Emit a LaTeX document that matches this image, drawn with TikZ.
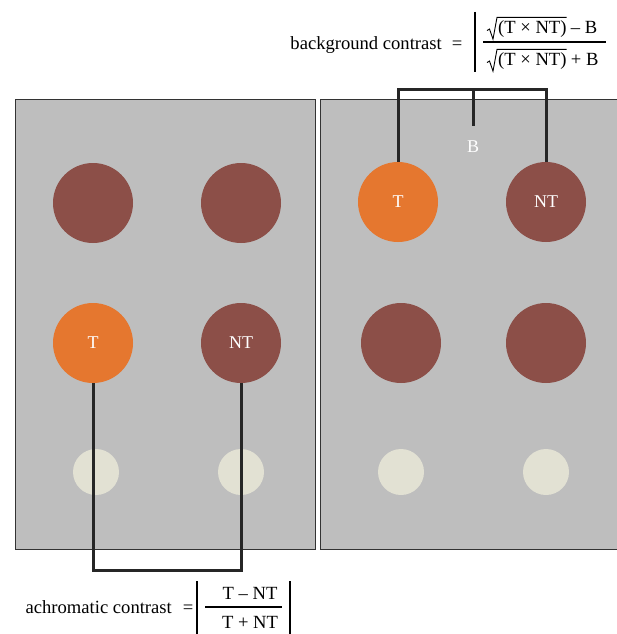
\documentclass[tikz,border=0pt]{standalone}
\usepackage{fontspec}
\setmainfont{Liberation Serif}
\usetikzlibrary{positioning, calc}
\definecolor{panelgray}{HTML}{BEBEBE}
\definecolor{dotbrown}{HTML}{8C4F48}
\definecolor{dotorange}{HTML}{E5772F}
\definecolor{dotpale}{HTML}{E2E1D3}
\tikzset{
  panel/.style = {draw=black!80, fill=panelgray, line width=1pt},
  bigdot/.style = {circle, fill=dotbrown, minimum size=80pt, inner sep=0pt, text=white, font=\fontsize{18}{20}\selectfont},
  target/.style = {bigdot, fill=dotorange},
  smalldot/.style = {circle, fill=dotpale, minimum size=46pt, inner sep=0pt},
  link/.style = {draw=black!85, line width=3pt},
  formula/.style = {inner sep=0pt, font=\fontsize{18.6}{22}\selectfont},
  rule/.style = {draw=black, line width=1.2pt},
  radical/.style = {draw=black, line width=0.9pt, line join=miter}
}
\begin{document}
\begin{tikzpicture}[x=1pt, y=-1pt]
  \useasboundingbox (0,0) rectangle (616,634);

  % Panels
  \draw[panel] (15,99) rectangle (315,549);
  \draw[panel] (320,99) rectangle (640,549);

  % Left panel
  \node (l11) [bigdot] at (93,203) {};
  \node (l12) [bigdot] at (241,203) {};
  \node (lt) [target] at (93,343) {T};
  \node (lnt) [bigdot] at (241,343) {NT};
  \node (l31) [smalldot] at (96,472) {};
  \node (l32) [smalldot] at (241,472) {};

  % Right panel
  \node (rt) [target] at (398,202) {T};
  \node (rnt) [bigdot] at (546,202) {NT};
  \node (r21) [bigdot] at (401,343) {};
  \node (r22) [bigdot] at (546,343) {};
  \node (r31) [smalldot] at (401,472) {};
  \node (r32) [smalldot] at (546,472) {};
  \node (b) [text=white, font=\fontsize{18}{20}\selectfont] at (473,147) {B};

  % Connecting lines
  \draw[link] (rt.north) -- ++(0,-72) coordinate (bl) -| (rnt.north);
  \draw[link] (bl -| b) -- ($(b.north)+(0,-12)$);
  \draw[link] (lt.south) -- ++(0,187) -| (lnt.south);

  % Background contrast formula
  \node (bglabel) [formula, anchor=base east] at (442,49) {background contrast};
  \node (bgeq) [formula, anchor=base] at (457,49) {=};
  \node (numroot) [formula, anchor=base west] at (498,34) {(T × NT)};
  \node (numb) [formula, anchor=base west] at ($(numroot.base east)+(4,0)$) {– B};
  \node (denroot) [formula, anchor=base west] at (498,66) {(T × NT)};
  \node (denb) [formula, anchor=base west] at ($(denroot.base east)+(4,0)$) {+ B};
  \foreach \r in {numroot, denroot}
    \draw[radical] ($(\r.west)+(-11,1)$) -- ++(2.5,-1.5) -- ($(\r.south west)+(-5,1)$)
      -- ($(\r.north west)+(-1,-3.5)$) -- ($(\r.north east)+(0,-3.5)$);
  \draw[rule] (483,42) -- (606,42);
  \draw[rule] (475,12) -- (475,72);

  % Achromatic contrast formula
  \node (aclabel) [formula, anchor=base east] at (172,613) {achromatic contrast};
  \node (aceq) [formula, anchor=base] at (188,613) {=};
  \node (acnum) [formula] at (250,593) {T – NT};
  \node (acden) [formula] at (250,622) {T + NT};
  \draw[rule] (205,607) -- (282,607);
  \draw[rule] (197,581) -- (197,634);
  \draw[rule] (290,581) -- (290,634);
\end{tikzpicture}
\end{document}
